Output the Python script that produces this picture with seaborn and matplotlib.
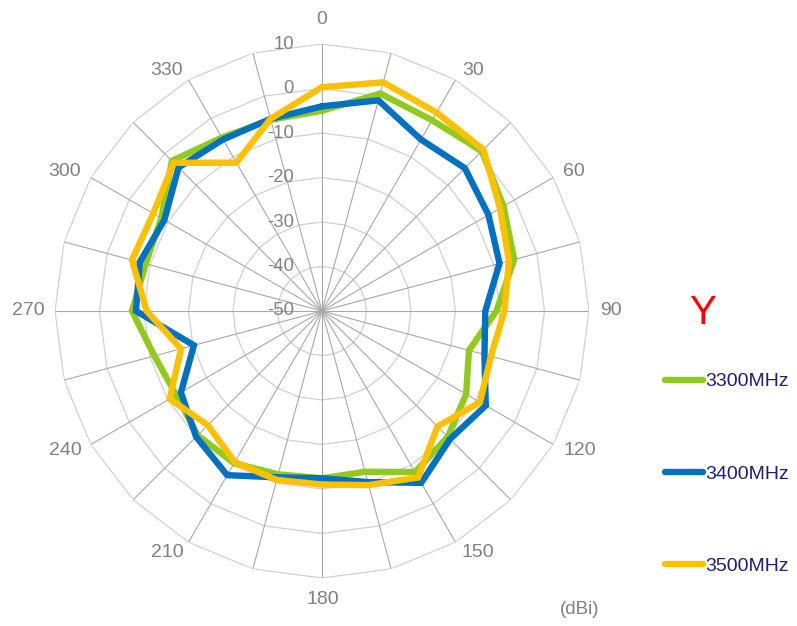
import numpy as np
import pandas as pd
import matplotlib
matplotlib.use("Agg")
import matplotlib.pyplot as plt
import seaborn as sns
from matplotlib.lines import Line2D

# ---------------- data ----------------
angles_deg = list(range(0, 360, 15))
series_names = ["3300MHz", "3400MHz", "3500MHz"]
gain_3300 = [-5.0, 0.6, -0.5, 0.8, -2.9, -5.3, -10.8, -15.8, -12.6, -10.0, -8.2, -12.6,
             -12.4, -12.0, -10.5, -10.5, -12.2, -11.0, -7.3, -9.0, -8.3, -2.3, -5.0, -5.5]
gain_3400 = [-4.0, -1.0, -5.5, -4.6, -6.8, -8.7, -13.3, -12.2, -7.5, -9.3, -5.4, -10.2,
             -12.4, -11.3, -7.4, -10.0, -13.4, -20.2, -8.2, -7.6, -9.1, -4.4, -5.5, -5.3]
gain_3500 = [0.3, 3.2, 1.5, 1.3, -3.8, -6.5, -9.0, -10.7, -9.0, -13.3, -6.8, -9.5,
             -11.0, -10.7, -10.8, -13.7, -10.5, -17.2, -10.6, -5.8, -6.2, -2.9, -11.5, -5.3]
angle_label_deg = list(range(0, 360, 30))
angle_labels = [str(a) for a in angle_label_deg]
radial_ticks = [10, 0, -10, -20, -30, -40, -50]
legend_title = "Y"
unit_label = "(dBi)"

colors = ["#92C91E", "#0070C0", "#FFC000"]
gray_text = "#808080"

# label placement (pixel offsets of label centres from the chart centre)
label_offsets = [(0, 291), (151, 240), (252, 139), (289, 0), (258, -140), (156, -242),
                 (1, -289), (-155, -242), (-257, -140), (-294, 0), (-257, 139), (-155, 240)]

sns.set_theme(style="white")
plt.rcParams["font.family"] = ["Liberation Sans", "DejaVu Sans"]

rows = []
for name, vals in zip(series_names, [gain_3300, gain_3400, gain_3500]):
    for a, v in zip(angles_deg + [360], vals + [vals[0]]):
        rows.append({"theta": np.deg2rad(a), "gain": v, "series": name})
df = pd.DataFrame(rows)

fig = plt.figure(figsize=(7.97, 6.26), dpi=100)
ax = fig.add_axes([0.069, 0.0767, 0.670, 0.853], projection="polar")
ax.set_theta_zero_location("N")
ax.set_theta_direction(-1)

# polygon grid (radar style)
theta_ring = np.deg2rad(np.arange(0, 361, 15))
for r in radial_ticks[:-1]:
    ax.plot(theta_ring, [r] * len(theta_ring), color="#D0D0D0", lw=0.9, zorder=1)
for a in angles_deg:
    ax.plot([np.deg2rad(a)] * 2, [-50, 10], color="#A8A8A8", lw=0.8, zorder=1)

sns.lineplot(data=df, x="theta", y="gain", hue="series", hue_order=series_names,
             palette=colors, sort=False, estimator=None, lw=4.6, ax=ax, legend=False)
for ln in ax.lines[-3:]:
    ln.set_solid_joinstyle("miter")
    ln.set_zorder(3)

ax.set_ylim(-50, 10)
ax.grid(False)
ax.spines["polar"].set_visible(False)
ax.set_xticks([])
ax.set_yticks([])
ax.set_xlabel("")
ax.set_ylabel("")
ax.set_facecolor("white")

# radial labels along the 0° spoke
for r in radial_ticks:
    ax.annotate(str(r), xy=(0, r), xytext=(-28, 0), textcoords="offset pixels",
                ha="right", va="center", color=gray_text, fontsize=13.3, zorder=4)

# angle labels
for lbl, (dx, dy) in zip(angle_labels, label_offsets):
    ax.annotate(lbl, xy=(0, -50), xytext=(dx, dy), textcoords="offset pixels",
                ha="center", va="center", color=gray_text, fontsize=14,
                annotation_clip=False)

# legend
handles = [Line2D([], [], color=c, lw=4.6, solid_capstyle="round") for c in colors]
fig.legend(handles, series_names, loc="center left",
           bbox_to_anchor=(665 / 797, (626 - 474) / 626), frameon=False, fontsize=14,
           labelcolor="#1F1F6E", handlelength=1.95, handletextpad=0.12,
           labelspacing=3.85, borderpad=0, borderaxespad=0)
fig.text(703 / 797, 1 - 313 / 626, legend_title, color="#FF0000", fontsize=29,
         ha="center", va="center")
fig.text(580 / 797, 1 - 609 / 626, unit_label, color=gray_text, fontsize=13.5,
         ha="center", va="center")

fig.savefig("out.png", dpi=100, facecolor="white")
